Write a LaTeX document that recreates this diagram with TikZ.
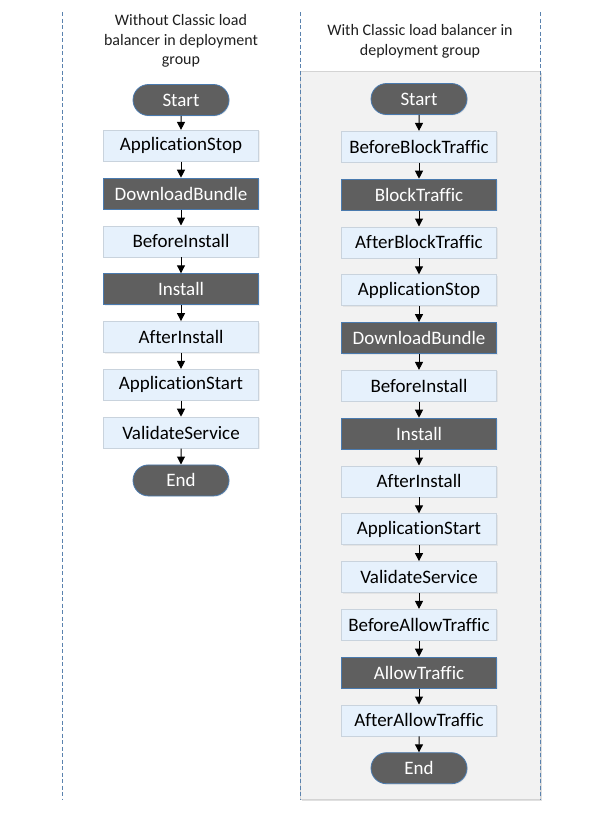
\documentclass[tikz,border=0pt]{standalone}
\usepackage{fontspec}
\setmainfont{Carlito}[Ligatures=NoCommon]
\usetikzlibrary{positioning,arrows.meta,shapes.misc,shadows}
\definecolor{lightfill}{HTML}{E6F1FC}
\definecolor{lightedge}{HTML}{C9D3DD}
\definecolor{darkfill}{HTML}{5F5F5F}
\definecolor{darkedge}{HTML}{4A7AAE}
\definecolor{laneline}{HTML}{5A82AE}
\definecolor{panelfill}{HTML}{F2F2F2}
\definecolor{paneledge}{HTML}{D4D4D4}
\tikzset{
  hook/.style={rectangle, minimum width=155pt, minimum height=31pt, inner sep=0pt,
    font=\fontsize{19}{21}\selectfont, fill=lightfill, draw=lightedge, line width=0.8pt,
    drop shadow={opacity=0.12, shadow xshift=1pt, shadow yshift=-1pt}},
  darkhook/.style={hook, fill=darkfill, draw=darkedge, text=white},
  terminal/.style={darkhook, rounded rectangle, minimum width=96pt},
  flow/.style={-{Triangle[length=8pt,width=8pt]}, line width=1pt},
  lane/.style={laneline, line width=1pt, dash pattern=on 4pt off 2.5pt},
  heading/.style={align=center, text=black!88, font=\fontsize{16}{19.5}\selectfont},
}
\begin{document}
\begin{tikzpicture}[x=1pt, y=-1pt, node distance=16pt]
\useasboundingbox (0,0) rectangle (601,815);
% panel behind the right column
\fill[black!12] (302,73) rectangle (542,801);
\draw[paneledge, fill=panelfill, line width=0.8pt] (300,71) rectangle (540,799);
\draw[lane] (62,12) -- (62,799);
\draw[lane] (300,12) -- (300,799);
\draw[lane] (540,12) -- (540,799);

% headings
\node[heading] (headL) at (181,41) {Without Classic load\\balancer in deployment\\group};
\node[heading] (headR) at (420,41.5) {With Classic load balancer in\\deployment group};

% left column
\node[terminal] (lstart) at (181,100) {Start};
\node[hook, below=14pt of lstart] (lstop) {ApplicationStop};
\node[darkhook, below=of lstop] (ldown) {DownloadBundle};
\node[hook, below=of ldown] (lbinst) {BeforeInstall};
\node[darkhook, below=of lbinst] (linst) {Install};
\node[hook, below=of linst] (lainst) {AfterInstall};
\node[hook, below=of lainst] (lappst) {ApplicationStart};
\node[hook, below=of lappst] (lvalid) {ValidateService};
\node[terminal, below=of lvalid] (lend) {End};

% right column
\node[terminal] (rstart) at (419,99) {Start};
\node[hook, below=of rstart] (rbblock) {BeforeBlockTraffic};
\node[darkhook, below=of rbblock] (rblock) {BlockTraffic};
\node[hook, below=of rblock] (rablock) {AfterBlockTraffic};
\node[hook, below=of rablock] (rstop) {ApplicationStop};
\node[darkhook, below=of rstop] (rdown) {DownloadBundle};
\node[hook, below=of rdown] (rbinst) {BeforeInstall};
\node[darkhook, below=of rbinst] (rinst) {Install};
\node[hook, below=of rinst] (rainst) {AfterInstall};
\node[hook, below=of rainst] (rappst) {ApplicationStart};
\node[hook, below=of rappst] (rvalid) {ValidateService};
\node[hook, below=of rvalid] (rballow) {BeforeAllowTraffic};
\node[darkhook, below=of rballow] (rallow) {AllowTraffic};
\node[hook, below=of rallow] (raallow) {AfterAllowTraffic};
\node[terminal, below=of raallow] (rend) {End};

% arrows
\foreach \a/\b in {lstart/lstop, lstop/ldown, ldown/lbinst, lbinst/linst, linst/lainst,
    lainst/lappst, lappst/lvalid, lvalid/lend}
  \draw[flow] (\a) -- (\b);
\foreach \a/\b in {rstart/rbblock, rbblock/rblock, rblock/rablock, rablock/rstop,
    rstop/rdown, rdown/rbinst, rbinst/rinst, rinst/rainst, rainst/rappst,
    rappst/rvalid, rvalid/rballow, rballow/rallow, rallow/raallow, raallow/rend}
  \draw[flow] (\a) -- (\b);
\end{tikzpicture}
\end{document}
